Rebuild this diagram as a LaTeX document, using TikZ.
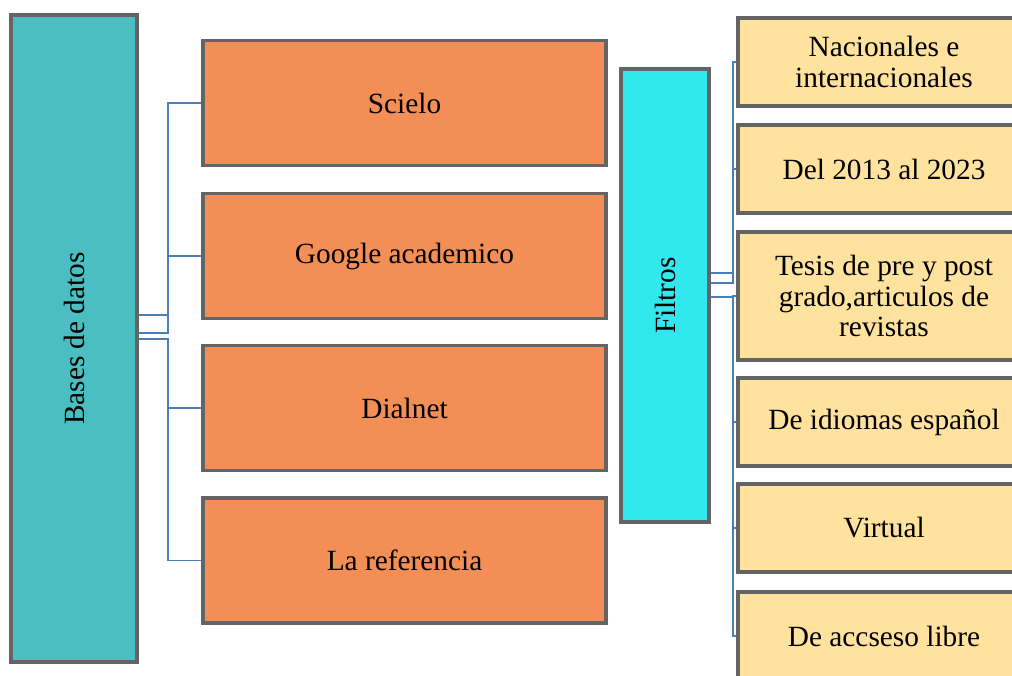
\documentclass[tikz,border=0pt]{standalone}
\usepackage{fontspec}
\setmainfont{Liberation Serif}
\usetikzlibrary{calc}
\definecolor{tealbox}{RGB}{74,190,192}
\definecolor{cyanbox}{RGB}{48,232,238}
\definecolor{orangebox}{RGB}{242,142,86}
\definecolor{yellowbox}{RGB}{254,226,158}
\definecolor{edgegray}{RGB}{100,100,100}
\definecolor{linkblue}{RGB}{74,126,187}
\tikzset{
  box/.style={draw=edgegray, line width=2.6pt, inner sep=0pt, align=center,
    font=\fontsize{22}{23}\selectfont},
  basebox/.style={box, fill=tealbox},
  filterbox/.style={box, fill=cyanbox},
  dbbox/.style={box, fill=orangebox, minimum width=302.25pt, minimum height=93.75pt},
  optbox/.style={box, fill=yellowbox, minimum width=219pt, minimum height=66pt},
  conn/.style={draw=linkblue, line width=1.3pt}
}
\begin{document}
\begin{tikzpicture}[x=0.75pt,y=-0.75pt]
\useasboundingbox (0,0) rectangle (1012,675);
\clip (0,0) rectangle (1012,675);
%bases de datos
\node[basebox, minimum width=94.5pt, minimum height=485.25pt] (bases) at (74,338.5) {\rotatebox{90}{Bases de datos}};
\node[dbbox] (scielo) at (404.5,103) {Scielo};
\node[dbbox] (google) at (404.5,256) {Google academico};
\node[dbbox] (dialnet) at (404.5,408) {Dialnet};
\node[dbbox] (referencia) at (404.5,560.5) {La referencia};
\draw[conn] (bases.east |- 0,315) -- ++(29,0) |- (scielo.west);
\draw[conn] (bases.east |- 0,333) -- ++(29,0) |- (google.west);
\draw[conn] (bases.east |- 0,339) -- ++(29,0) |- (dialnet.west);
\draw[conn] (bases.east |- 0,339) -- ++(29,0) |- (referencia.west);
%filtros
\node[filterbox, minimum width=66pt, minimum height=339.75pt] (filtros) at (665,295.5) {\rotatebox{90}{Filtros}};
\node[optbox] (nac) at (884,62) {Nacionales e\\internacionales};
\node[optbox] (anios) at (884,169) {Del 2013 al 2023};
\node[optbox, minimum height=96pt] (tesis) at (884,296) {Tesis de pre y post\\grado,articulos de\\revistas};
\node[optbox] (idioma) at (884,422) {De idiomas español};
\node[optbox] (virtual) at (884,528) {Virtual};
\node[optbox] (acceso) at (884,636) {De accseso libre};
\draw[conn] (filtros.east |- 0,273) -- ++(22,0) |- (nac.west);
\draw[conn] (filtros.east |- 0,283) -- ++(22,0) |- (anios.west);
\draw[conn] (filtros.east |- 0,297) -- ++(22,0) |- (tesis.west);
\draw[conn] (filtros.east |- 0,297) -- ++(22,0) |- (idioma.west);
\draw[conn] (filtros.east |- 0,297) -- ++(22,0) |- (virtual.west);
\draw[conn] (filtros.east |- 0,297) -- ++(22,0) |- (acceso.west);
\end{tikzpicture}
\end{document}
